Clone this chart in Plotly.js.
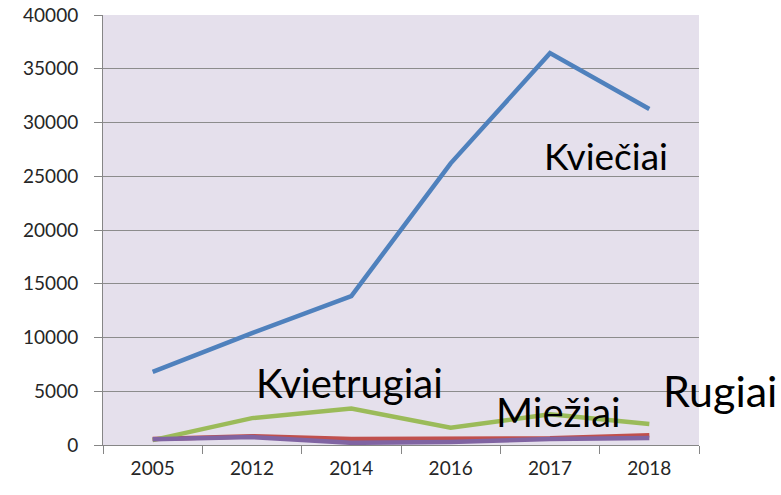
<!DOCTYPE html>
<html><head><meta charset="utf-8">
<script src="https://cdn.plot.ly/plotly-3.0.1.min.js"></script>
<style>html,body{margin:0;padding:0;background:#fff}#chart{width:781px;height:495px}</style>
</head><body><div id="chart"></div>
<script>
const years = ["2005","2012","2014","2016","2017","2018"];
const kvieciai = [6800, 10400, 13850, 26200, 36450, 31250];
const rugiai = [550, 820, 560, 540, 620, 900];
const kvietrugiai = [450, 2500, 3400, 1600, 2850, 1950];
const miezai = [540, 740, 200, 290, 560, 660];
const seriesNames = ["Kviečiai", "Rugiai", "Kvietrugiai", "Miežiai"];
const colors = ["#4f81bd", "#c0504d", "#9bbb59", "#8064a2"];
const values = [kvieciai, rugiai, kvietrugiai, miezai];

const traces = values.map((v, i) => ({
  x: years, y: v, type: "scatter", mode: "lines", name: seriesNames[i],
  line: {color: colors[i], width: 4.5}, hoverinfo: "skip"
}));

const fontFam = "Lato, 'Open Sans', sans-serif";
const layout = {
  width: 781, height: 495,
  margin: {l: 103, r: 82, t: 15, b: 50},
  paper_bgcolor: "#ffffff", plot_bgcolor: "#e5e0ec",
  showlegend: false,
  xaxis: {
    type: "category", range: [-0.5, 5.5], tickson: "boundaries", ticks: "outside", ticklen: 8,
    tickcolor: "#868686", showline: true, linecolor: "#868686", linewidth: 1,
    showgrid: false, tickfont: {family: fontFam, size: 19, color: "#262626"},
    zeroline: false, ticklabelstandoff: 6
  },
  yaxis: {
    range: [0, 40000], dtick: 5000, tickformat: "d", ticks: "outside", ticklen: 8,
    tickcolor: "#868686", showline: true, linecolor: "#868686", linewidth: 1,
    showgrid: true, gridcolor: "#8c8c8c", gridwidth: 1, zeroline: false,
    tickfont: {family: fontFam, size: 19, color: "#262626"}, ticklabelstandoff: 12
  },
  annotations: [
    {text: "Kviečiai", x: 0.844, y: 0.674, size: 37},
    {text: "Kvietrugiai", x: 0.414, y: 0.144, size: 40},
    {text: "Miežiai", x: 0.765, y: 0.077, size: 40},
    {text: "Rugiai", x: 1.035, y: 0.126, size: 43}
  ].map(a => ({xref: "paper", yref: "paper", showarrow: false,
      xanchor: "center", yanchor: "middle", text: a.text, x: a.x, y: a.y,
      font: {family: fontFam, size: a.size, color: "#000"}}))
};
Plotly.newPlot("chart", traces, layout, {displayModeBar: false, staticPlot: true});
</script></body></html>
